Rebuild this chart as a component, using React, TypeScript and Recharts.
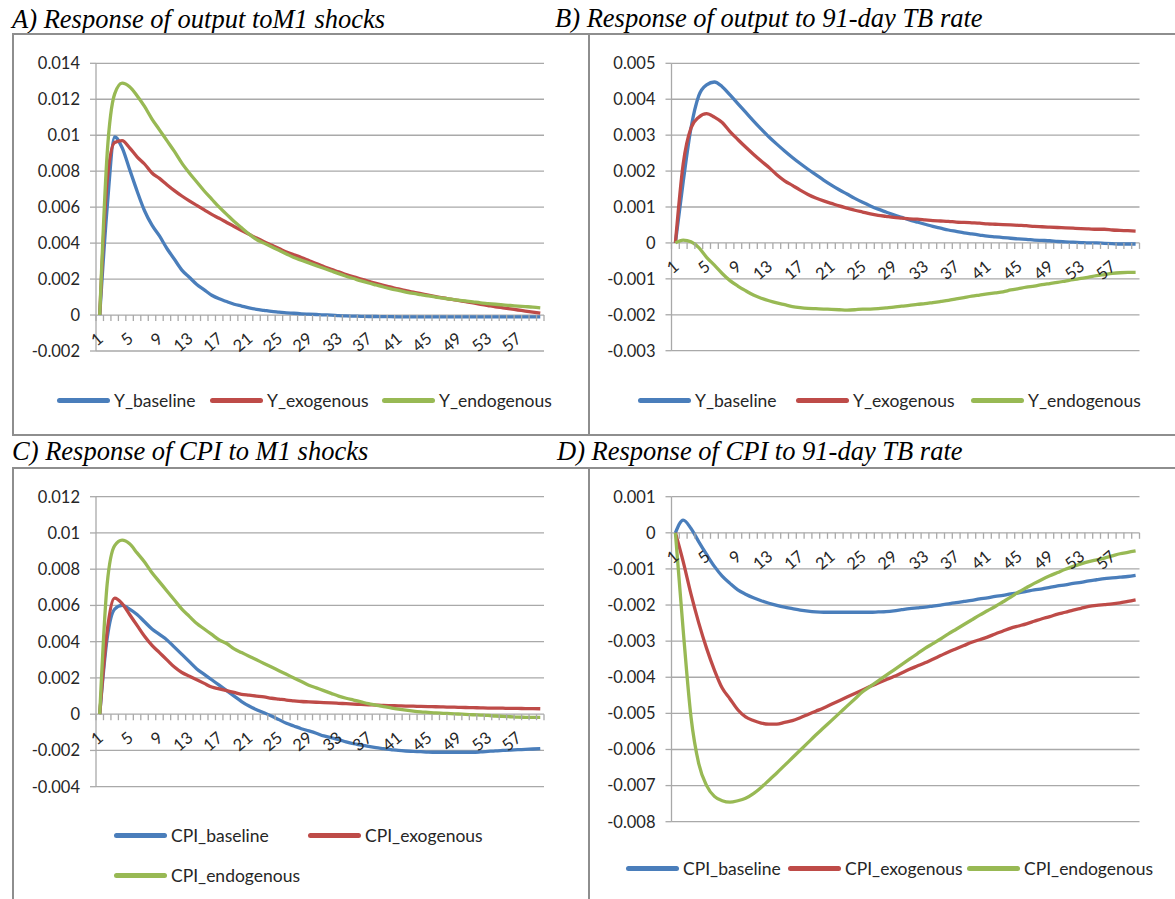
import React from "react";
import { LineChart, Line, XAxis, YAxis, CartesianGrid, Legend } from "recharts";

// periods 1..60 on the category axis
const periods = [
  1, 2, 3, 4, 5, 6, 7, 8, 9, 10, 11, 12, 13, 14, 15, 16, 17, 18, 19, 20,
  21, 22, 23, 24, 25, 26, 27, 28, 29, 30, 31, 32, 33, 34, 35, 36, 37, 38, 39, 40,
  41, 42, 43, 44, 45, 46, 47, 48, 49, 50, 51, 52, 53, 54, 55, 56, 57, 58, 59, 60,
];

// A) output to M1 shocks
const yBaseM1 = [
  0, 0.006, 0.0099, 0.0093, 0.0081, 0.0069, 0.0058, 0.005, 0.0044, 0.0037,
  0.0031, 0.0025, 0.0021, 0.0017, 0.0014, 0.0011, 0.0009, 0.00075, 0.0006, 0.0005,
  0.0004, 0.00032, 0.00026, 0.0002, 0.00016, 0.00012, 0.0001, 0.00007, 0.00005, 0.00003,
  0.00001, 0, -0.00003, -0.00005, -0.00006, -0.00007, -0.00008, -0.00008, -0.00009, -0.00009,
  -0.0001, -0.0001, -0.0001, -0.0001, -0.0001, -0.0001, -0.0001, -0.0001, -0.0001, -0.0001,
  -0.0001, -0.0001, -0.0001, -0.0001, -0.0001, -0.0001, -0.0001, -0.0001, -0.0001, -0.0001,
];
const yExoM1 = [
  0, 0.0075, 0.0096, 0.0097, 0.0093, 0.0088, 0.0084, 0.0079, 0.0076, 0.00725,
  0.00692, 0.00662, 0.00635, 0.0061, 0.00585, 0.0056, 0.00538, 0.00515, 0.00492, 0.0047,
  0.00449, 0.00428, 0.00408, 0.00389, 0.0037, 0.0035, 0.00335, 0.0032, 0.00303, 0.00286,
  0.0027, 0.00254, 0.0024, 0.00225, 0.00212, 0.002, 0.00188, 0.00176, 0.00165, 0.00155,
  0.00145, 0.00136, 0.00127, 0.00119, 0.00111, 0.00103, 0.00095, 0.00088, 0.00081, 0.00074,
  0.00067, 0.0006, 0.00053, 0.00046, 0.0004, 0.00034, 0.00028, 0.00022, 0.00016, 0.0001,
];
const yEndoM1 = [
  0, 0.009, 0.0123, 0.0129, 0.0127, 0.0122, 0.0116, 0.0109, 0.0103, 0.0097,
  0.0091, 0.00845, 0.0079, 0.0074, 0.0069, 0.00645, 0.006, 0.0056, 0.0052, 0.00485,
  0.0045, 0.0042, 0.004, 0.0038, 0.0036, 0.0034, 0.0032, 0.00305, 0.0029, 0.00275,
  0.0026, 0.00245, 0.0023, 0.00216, 0.00203, 0.0019, 0.00178, 0.00167, 0.00156, 0.00146,
  0.00137, 0.00128, 0.0012, 0.00113, 0.00106, 0.001, 0.00094, 0.00088, 0.00083, 0.00078,
  0.00073, 0.00068, 0.00064, 0.0006, 0.00056, 0.00053, 0.0005, 0.00047, 0.00044, 0.0004,
];

// B) output to 91-day TB rate
const yBaseTB = [
  0, 0.0017, 0.0032, 0.0041, 0.0044, 0.00448, 0.00435, 0.00412, 0.00388, 0.00364,
  0.0034, 0.00317, 0.00295, 0.00275, 0.00256, 0.00238, 0.00221, 0.00205, 0.0019, 0.00175,
  0.00161, 0.00148, 0.00136, 0.00124, 0.00113, 0.00103, 0.00094, 0.00086, 0.00078, 0.00071,
  0.00064, 0.00058, 0.00052, 0.00046, 0.00041, 0.00036, 0.00032, 0.00028, 0.00025, 0.00022,
  0.00019, 0.00017, 0.00015, 0.00013, 0.00011, 0.0001, 0.00008, 0.00007, 0.00006, 0.00004,
  0.00003, 0.00002, 0.00001, 0, 0, -0.00001, -0.00002, -0.00003, -0.00003, -0.00003,
];
const yExoTB = [
  0, 0.0022, 0.0032, 0.0035, 0.0036, 0.0035, 0.00335, 0.0031, 0.00288, 0.00267,
  0.00247, 0.00228, 0.0021, 0.0019, 0.00173, 0.0016, 0.00147, 0.00135, 0.00125, 0.00117,
  0.0011, 0.00103, 0.00097, 0.00091, 0.00086, 0.00081, 0.00077, 0.00074, 0.00071, 0.00069,
  0.00067, 0.00066, 0.00064, 0.00062, 0.00061, 0.0006, 0.00058, 0.00057, 0.00056, 0.00055,
  0.00053, 0.00052, 0.00051, 0.0005, 0.00049, 0.00048, 0.00046, 0.00045, 0.00044, 0.00043,
  0.00042, 0.00041, 0.0004, 0.00039, 0.00038, 0.00038, 0.00036, 0.00035, 0.00034, 0.00033,
];
const yEndoTB = [
  0, 0.00008, 0.00003, -0.00013, -0.0004, -0.00062, -0.00085, -0.00105, -0.0012, -0.00133,
  -0.00145, -0.00154, -0.00161, -0.00167, -0.00172, -0.00177, -0.0018, -0.00182, -0.00183, -0.00184,
  -0.00185, -0.00186, -0.00187, -0.00186, -0.00184, -0.00184, -0.00183, -0.00181, -0.00179, -0.00176,
  -0.00174, -0.00171, -0.00169, -0.00166, -0.00163, -0.0016, -0.00156, -0.00152, -0.00148, -0.00145,
  -0.00142, -0.00139, -0.00136, -0.00131, -0.00127, -0.00123, -0.0012, -0.00116, -0.00113, -0.0011,
  -0.00106, -0.00102, -0.00099, -0.00095, -0.00091, -0.00088, -0.00085, -0.00083, -0.00082, -0.00082,
];

// C) CPI to M1 shocks
const cpiBaseM1 = [
  0, 0.0042, 0.0058, 0.006, 0.0058, 0.0055, 0.0051, 0.0047, 0.0044, 0.0041,
  0.0037, 0.0033, 0.0029, 0.0025, 0.0022, 0.0019, 0.0016, 0.0013, 0.001, 0.0007,
  0.00045, 0.00025, 0.00008, -0.0001, -0.0003, -0.0005, -0.00065, -0.0008, -0.00092, -0.00105,
  -0.0012, -0.0013, -0.0014, -0.00153, -0.00163, -0.0017, -0.00178, -0.00185, -0.0019, -0.00195,
  -0.002, -0.00203, -0.00205, -0.00207, -0.00209, -0.0021, -0.0021, -0.0021, -0.0021, -0.0021,
  -0.0021, -0.00208, -0.00205, -0.00202, -0.002, -0.00198, -0.00196, -0.00194, -0.00192, -0.0019,
];
const cpiExoM1 = [
  0, 0.0046, 0.0064, 0.0061, 0.0055, 0.0049, 0.0043, 0.0038, 0.0034, 0.003,
  0.0026, 0.0023, 0.0021, 0.0019, 0.0017, 0.0015, 0.0014, 0.0013, 0.0012, 0.0011,
  0.00105, 0.001, 0.00095, 0.00088, 0.00083, 0.00078, 0.00074, 0.0007, 0.00068, 0.00066,
  0.00064, 0.00062, 0.0006, 0.00058, 0.00056, 0.00054, 0.00052, 0.0005, 0.00048, 0.00047,
  0.00046, 0.00045, 0.00044, 0.00043, 0.00042, 0.00041, 0.0004, 0.00039, 0.00038, 0.00037,
  0.00036, 0.00035, 0.00034, 0.00034, 0.00033, 0.00032, 0.00032, 0.00031, 0.00031, 0.0003,
];
const cpiEndoM1 = [
  0, 0.0072, 0.0093, 0.0096, 0.0094, 0.0089, 0.0084, 0.0078, 0.0073, 0.0068,
  0.0063, 0.0058, 0.0054, 0.005, 0.0047, 0.0044, 0.0041, 0.0039, 0.0036, 0.0034,
  0.0032, 0.003, 0.0028, 0.0026, 0.0024, 0.0022, 0.002, 0.0018, 0.0016, 0.00145,
  0.0013, 0.00115, 0.001, 0.00088, 0.00078, 0.00068, 0.00058, 0.0005, 0.00042, 0.00035,
  0.00028, 0.00022, 0.00017, 0.00013, 0.0001, 0.00007, 0.00005, 0.00003, 0.00001, -0.00001,
  -0.00003, -0.00005, -0.00007, -0.0001, -0.00012, -0.00014, -0.00016, -0.00017, -0.00018, -0.00018,
];

// D) CPI to 91-day TB rate
const cpiBaseTB = [
  0, 0.00035, 0.00012, -0.00025, -0.0006, -0.00093, -0.0012, -0.0014, -0.00158, -0.0017,
  -0.0018, -0.00188, -0.00195, -0.00201, -0.00206, -0.0021, -0.00214, -0.00217, -0.00219, -0.0022,
  -0.0022, -0.0022, -0.0022, -0.0022, -0.0022, -0.0022, -0.00219, -0.00218, -0.00216, -0.00213,
  -0.0021, -0.00208, -0.00206, -0.00203, -0.002, -0.00197, -0.00193, -0.0019, -0.00187, -0.00183,
  -0.0018, -0.00176, -0.00173, -0.00169, -0.00166, -0.00162, -0.00158, -0.00155, -0.00151, -0.00147,
  -0.00144, -0.0014, -0.00137, -0.00133, -0.0013, -0.00127, -0.00125, -0.00123, -0.00121, -0.00118,
];
const cpiExoTB = [
  0, -0.0008, -0.0017, -0.0025, -0.0032, -0.0038, -0.0043, -0.0046, -0.0049, -0.0051,
  -0.0052, -0.00527, -0.0053, -0.0053, -0.00525, -0.0052, -0.00512, -0.00503, -0.00494, -0.00485,
  -0.00475, -0.00465, -0.00455, -0.00445, -0.00435, -0.00425, -0.00416, -0.00407, -0.00398, -0.00388,
  -0.00378, -0.00369, -0.0036, -0.0035, -0.0034, -0.0033, -0.00321, -0.00312, -0.00303, -0.00296,
  -0.00289, -0.0028, -0.00272, -0.00264, -0.00258, -0.00252, -0.00245, -0.00238, -0.00232, -0.00225,
  -0.0022, -0.00214, -0.00209, -0.00204, -0.00201, -0.00199, -0.00197, -0.00194, -0.0019, -0.00186,
];
const cpiEndoTB = [
  0, -0.0027, -0.0051, -0.0064, -0.007, -0.0073, -0.00742, -0.00746, -0.00742, -0.00735,
  -0.00722, -0.00705, -0.00685, -0.00665, -0.00644, -0.00623, -0.00602, -0.00581, -0.0056, -0.0054,
  -0.0052, -0.005, -0.0048, -0.0046, -0.0044, -0.00425, -0.0041, -0.00395, -0.0038, -0.00365,
  -0.0035, -0.00335, -0.0032, -0.00307, -0.00294, -0.0028, -0.00267, -0.00254, -0.00241, -0.00228,
  -0.00216, -0.00204, -0.00191, -0.00178, -0.00164, -0.00152, -0.0014, -0.00129, -0.00119, -0.0011,
  -0.00101, -0.00093, -0.00086, -0.0008, -0.00075, -0.0007, -0.00064, -0.00058, -0.00054, -0.0005,
];

const ticksA = [-0.002, 0, 0.002, 0.004, 0.006, 0.008, 0.01, 0.012, 0.014];
const ticksB = [-0.003, -0.002, -0.001, 0, 0.001, 0.002, 0.003, 0.004, 0.005];
const ticksC = [-0.004, -0.002, 0, 0.002, 0.004, 0.006, 0.008, 0.01, 0.012];
const ticksD = [-0.008, -0.007, -0.006, -0.005, -0.004, -0.003, -0.002, -0.001, 0, 0.001];

const yLabels = ["Y_baseline", "Y_exogenous", "Y_endogenous"];
const cpiLabels = ["CPI_baseline", "CPI_exogenous", "CPI_endogenous"];
const labelEvery = 4;

const FONT = "Lato, 'Open Sans', sans-serif";
const TITLE_FONT = "'Liberation Serif', 'Times New Roman', serif";
const COLORS = { base: "#4A7EBB", exo: "#BE4B48", endo: "#98B954" };
const GRID = "#a9a9a9";
const TEXT = "#262626";
const BORDER = "#8e8e8e";
const KEYS = ["base", "exo", "endo"] as const;

const fmt = (v: number) => String(Number(v.toFixed(4)));

type Box = { x: number; y: number; w: number; h: number };
type Plot = { l: number; t: number; r: number; b: number };

function Panel({
  title, titleX, titleBase, box, plot, domain, ticks, labels, values, spots,
}: {
  title: string;
  titleX: number;
  titleBase: number;
  box: Box;
  plot: Plot;
  domain: [number, number];
  ticks: number[];
  labels: string[];
  values: number[][];
  spots: { x: number; y: number }[];
}) {
  const yW = 80;
  const plotW = plot.r - plot.l;
  const plotH = plot.b - plot.t;
  const margin = {
    top: plot.t - box.y,
    left: plot.l - box.x - yW,
    right: box.x + box.w - plot.r,
    bottom: box.y + box.h - plot.b - 1,
  };
  const step = plotW / periods.length;
  // category axis crosses the value axis at 0
  const zeroY = margin.top + (plotH * domain[1]) / (domain[1] - domain[0]);
  const rows = periods.map((t, i) => ({ t, base: values[0][i], exo: values[1][i], endo: values[2][i] }));

  const renderTick = (props: any) => {
    const { x, index, payload } = props;
    const last = index === periods.length - 1;
    const lx = x + 1;
    const ly = zeroY + 21;
    return (
      <g>
        <line x1={x - step / 2} x2={x - step / 2} y1={zeroY} y2={zeroY + 6} stroke={GRID} strokeWidth={1.3} />
        {last && <line x1={x + step / 2} x2={x + step / 2} y1={zeroY} y2={zeroY + 6} stroke={GRID} strokeWidth={1.3} />}
        {index % labelEvery === 0 && (
          <text
            x={lx}
            y={ly}
            dy="0.35em"
            textAnchor="end"
            transform={`rotate(-40 ${lx} ${ly})`}
            fontSize={16.5}
            fontFamily={FONT}
            fill={TEXT}
          >
            {payload.value}
          </text>
        )}
      </g>
    );
  };

  const legendContent = () => (
    <div style={{ position: "relative", width: box.w, height: box.h }}>
      {KEYS.map((k, i) => (
        <div
          key={k}
          style={{
            position: "absolute",
            left: spots[i].x - box.x,
            top: spots[i].y - box.y - 10,
            height: 20,
            display: "flex",
            alignItems: "center",
            whiteSpace: "nowrap",
          }}
        >
          <span style={{ display: "inline-block", width: 53, height: 5, background: COLORS[k], borderRadius: 2.5, marginRight: 4 }} />
          <span style={{ fontFamily: FONT, fontSize: 17.5, color: TEXT }}>{labels[i]}</span>
        </div>
      ))}
    </div>
  );

  return (
    <>
      <div
        style={{
          position: "absolute",
          left: titleX,
          top: titleBase - 22.2,
          fontFamily: TITLE_FONT,
          fontStyle: "italic",
          fontSize: 26.5,
          lineHeight: "26.5px",
          whiteSpace: "nowrap",
          color: "#000",
        }}
      >
        {title}
      </div>
      <div
        style={{
          position: "absolute",
          left: box.x,
          top: box.y,
          width: box.w,
          height: box.h,
          border: `2px solid ${BORDER}`,
          boxSizing: "border-box",
        }}
      />
      <div style={{ position: "absolute", left: box.x, top: box.y }}>
        <LineChart width={box.w} height={box.h} data={rows} margin={margin}>
          <CartesianGrid vertical={false} stroke={GRID} strokeWidth={1.3} />
          <XAxis
            dataKey="t"
            type="category"
            interval={0}
            axisLine={false}
            tickLine={false}
            height={1}
            padding={{ left: step / 2, right: step / 2 }}
            tick={renderTick}
          />
          <YAxis
            type="number"
            domain={domain}
            ticks={ticks}
            interval={0}
            width={yW}
            tickSize={6}
            tickMargin={10}
            allowDataOverflow
            axisLine={{ stroke: GRID, strokeWidth: 1.3 }}
            tickLine={{ stroke: GRID, strokeWidth: 1.3 }}
            tick={{ fontSize: 16.5, fill: TEXT, fontFamily: FONT }}
            tickFormatter={fmt}
          />
          {KEYS.map((k) => (
            <Line
              key={k}
              dataKey={k}
              type="monotone"
              stroke={COLORS[k]}
              strokeWidth={3.3}
              dot={false}
              strokeLinejoin="round"
              isAnimationActive={false}
            />
          ))}
          <Legend
            layout="vertical"
            align="center"
            verticalAlign="middle"
            wrapperStyle={{ left: 0, top: 0, width: box.w, height: box.h, pointerEvents: "none" }}
            content={legendContent}
          />
        </LineChart>
      </div>
    </>
  );
}

export default function App() {
  return (
    <div
      style={{
        position: "absolute",
        left: 0,
        top: 0,
        width: 1175,
        height: 899,
        overflow: "hidden",
        background: "#fff",
      }}
    >
      <Panel
        title="A) Response of output toM1 shocks"
        titleX={12}
        titleBase={27.8}
        box={{ x: 12, y: 33, w: 578, h: 403 }}
        plot={{ l: 96, t: 63.3, r: 544, b: 351 }}
        domain={[-0.002, 0.014]}
        ticks={ticksA}
        labels={yLabels}
        values={[yBaseM1, yExoM1, yEndoM1]}
        spots={[{ x: 57, y: 400 }, { x: 210, y: 400 }, { x: 382, y: 400 }]}
      />
      <Panel
        title="B) Response of output to 91-day TB rate"
        titleX={555}
        titleBase={27.5}
        box={{ x: 588, y: 33, w: 600, h: 403 }}
        plot={{ l: 671.5, t: 63.3, r: 1139.5, b: 350.7 }}
        domain={[-0.003, 0.005]}
        ticks={ticksB}
        labels={yLabels}
        values={[yBaseTB, yExoTB, yEndoTB]}
        spots={[{ x: 638, y: 400 }, { x: 796, y: 400 }, { x: 971, y: 400 }]}
      />
      <Panel
        title="C) Response of CPI to M1 shocks"
        titleX={12}
        titleBase={460}
        box={{ x: 12, y: 467, w: 578, h: 440 }}
        plot={{ l: 96, t: 496.7, r: 544, b: 786.7 }}
        domain={[-0.004, 0.012]}
        ticks={ticksC}
        labels={cpiLabels}
        values={[cpiBaseM1, cpiExoM1, cpiEndoM1]}
        spots={[{ x: 114, y: 835 }, { x: 308, y: 835 }, { x: 114, y: 875 }]}
      />
      <Panel
        title="D) Response of CPI to 91-day TB rate"
        titleX={557}
        titleBase={460.5}
        box={{ x: 588, y: 467, w: 600, h: 440 }}
        plot={{ l: 671.5, t: 496.7, r: 1139.5, b: 821.7 }}
        domain={[-0.008, 0.001]}
        ticks={ticksD}
        labels={cpiLabels}
        values={[cpiBaseTB, cpiExoTB, cpiEndoTB]}
        spots={[{ x: 626, y: 868 }, { x: 788, y: 868 }, { x: 967, y: 868 }]}
      />
    </div>
  );
}
